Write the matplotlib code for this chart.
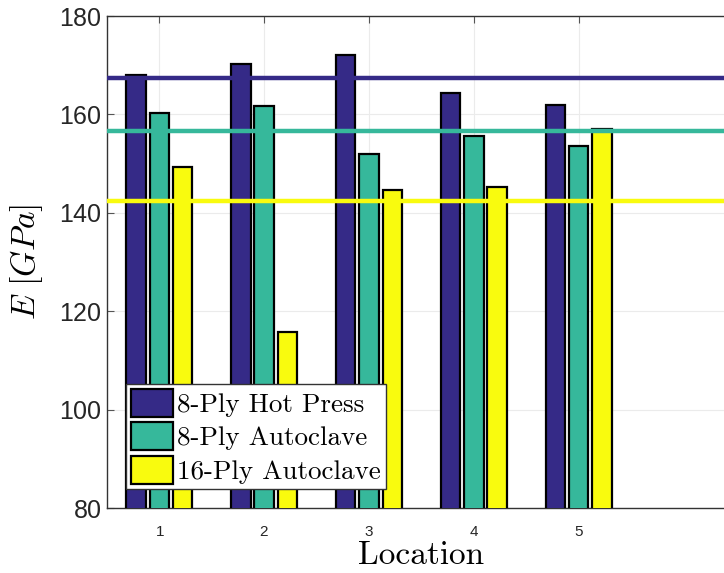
import numpy as np
import matplotlib as mpl
mpl.use('Agg')
import matplotlib.pyplot as plt
from matplotlib.patches import Patch

mpl.rcParams['mathtext.fontset'] = 'cm'
mpl.rcParams['axes.formatter.use_mathtext'] = True

locations = [1, 2, 3, 4, 5]
series = ["8-Ply Hot Press", "8-Ply Autoclave", "16-Ply Autoclave"]
hot_press_8 = [168.0, 170.2, 172.1, 164.4, 161.9]
autoclave_8 = [160.3, 161.8, 151.9, 155.6, 153.5]
autoclave_16 = [149.3, 115.8, 144.6, 145.2, 157.1]
colors = ["#352a87", "#36b89b", "#f9fb0e"]

fig = plt.figure(figsize=(7.24, 5.73), dpi=100)
ax = fig.add_axes([0.1478, 0.1134, 0.8685, 0.8586])

x = np.array(locations, dtype=float)
offsets = [-0.222, 0.0, 0.222]
for vals, off, c in zip([hot_press_8, autoclave_8, autoclave_16], offsets, colors):
    ax.bar(x + off, vals, width=0.186, color=c, edgecolor='black',
           linewidth=1.6, zorder=3)

# mean lines
for vals, c in zip([hot_press_8, autoclave_8, autoclave_16], colors):
    ax.axhline(np.mean(vals), color=c, linewidth=3.2, zorder=4)

ax.set_xlim(0.5, 6.5)
ax.set_ylim(80, 180)
ax.set_xticks(locations)
ax.set_yticks([80, 100, 120, 140, 160, 180])
ax.grid(True, color='#ebebeb', linewidth=0.8, zorder=0)
ax.set_axisbelow(True)
ax.tick_params(direction='in', top=True, right=True, length=5, color='#555555')
for lab in ax.get_yticklabels():
    lab.set_fontfamily('Liberation Sans')
    lab.set_fontsize(18)
    lab.set_color('#262626')
for lab in ax.get_xticklabels():
    lab.set_fontfamily('Liberation Sans')
    lab.set_fontsize(11)
    lab.set_color('#262626')
ax.tick_params(axis='x', pad=12)
for s in ax.spines.values():
    s.set_color('#333333')
    s.set_linewidth(1.0)

ax.set_xlabel("Location", fontfamily='cmr10', fontsize=24, labelpad=2)
ax.set_ylabel(r"$E\ [GPa]$", fontsize=24, labelpad=10)

handles = [Patch(facecolor=c, edgecolor='black', linewidth=1.6) for c in colors]
leg = ax.legend(handles, series, loc='lower left', bbox_to_anchor=(0.03, 0.038),
                prop={'family': 'cmr10', 'size': 19.5}, fancybox=False,
                framealpha=1, edgecolor='#333333', handlelength=1.55,
                handleheight=1.2, handletextpad=0.12, borderpad=0.2,
                labelspacing=0.2, borderaxespad=0)
leg.get_frame().set_linewidth(1.0)

fig.savefig("out.png", dpi=100)
